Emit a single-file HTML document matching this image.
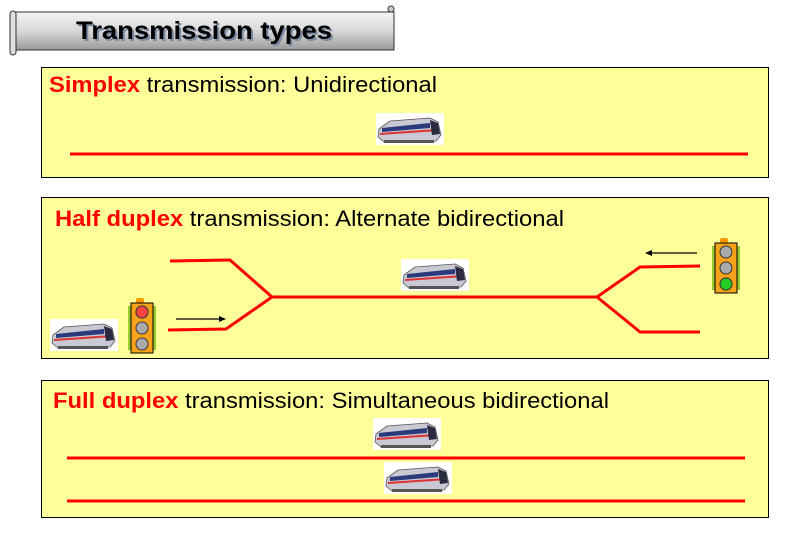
<!DOCTYPE html>
<html><head><meta charset="utf-8"><style>
body{margin:0;background:#fff;width:785px;height:539px;overflow:hidden}
svg{display:block}
text{font-family:"Liberation Sans",Arial,sans-serif}
</style></head><body>
<svg width="785" height="539" viewBox="0 0 785 539" xmlns="http://www.w3.org/2000/svg">
<defs>
<linearGradient id="bn" x1="0" y1="0" x2="0" y2="1">
<stop offset="0" stop-color="#f4f4f4"/><stop offset="0.5" stop-color="#d8d8d8"/><stop offset="1" stop-color="#9a9a9a"/>
</linearGradient>
<g id="train">
<rect x="0" y="0" width="68" height="32" fill="#fff"/>
<path d="M3 16 L14 8 L54 5 L62 9 L65 22 L60 28 L8 29 L2 24 Z" fill="#c9c9d4" stroke="#555" stroke-width="0.8"/>
<path d="M6 15 L54 10 L54 15 L6 19 Z" fill="#2b3a7a"/>
<path d="M4 20 L62 16 L63 18 L4 22 Z" fill="#d33"/>
<path d="M54 7 L62 10 L64 21 L56 22 Z" fill="#2a2a40"/>
<rect x="8" y="27" width="50" height="3" fill="#555"/>
</g>
<g id="tl">
<rect x="8" y="0" width="8" height="5" rx="2" fill="#f59a00"/>
<path d="M0 8 L4 8 L4 52 L0 52 Z M24 8 L28 8 L28 52 L24 52 Z" fill="#9c3"/>
<rect x="3" y="5" width="22" height="50" fill="#f7a21b" stroke="#000" stroke-width="1"/>
<circle cx="14" cy="14" r="6" fill="#aaa" stroke="#333"/>
<circle cx="14" cy="30" r="6" fill="#aaa" stroke="#333"/>
<circle cx="14" cy="46" r="6" fill="#aaa" stroke="#333"/>
</g>
</defs>

<rect x="12" y="12" width="382" height="38" fill="url(#bn)" stroke="#333" stroke-width="1"/>
<rect x="10" y="11" width="6" height="44" rx="3" fill="#ddd" stroke="#333"/>
<circle cx="391" cy="9" r="3" fill="#ccc" stroke="#333"/>
<text x="78" y="41" font-size="25" font-weight="bold" fill="#7a8aa0" textLength="256" lengthAdjust="spacingAndGlyphs">Transmission types</text>
<text x="76" y="39" font-size="25" font-weight="bold" fill="#000" textLength="256" lengthAdjust="spacingAndGlyphs">Transmission types</text>

<rect x="41.5" y="67.5" width="727" height="110" fill="#ffff99" stroke="#000"/>
<text x="49" y="92" font-size="22" fill="#000" textLength="388" lengthAdjust="spacingAndGlyphs"><tspan fill="#f00" font-weight="bold">Simplex</tspan> transmission: Unidirectional</text>
<use href="#train" x="376" y="113"/>
<line x1="70" y1="154" x2="748" y2="154" stroke="#f00" stroke-width="3"/>

<rect x="41.5" y="197.5" width="727" height="161" fill="#ffff99" stroke="#000"/>
<text x="55" y="226" font-size="22" fill="#000" textLength="509" lengthAdjust="spacingAndGlyphs"><tspan fill="#f00" font-weight="bold">Half duplex</tspan> transmission: Alternate bidirectional</text>
<g stroke="#f00" stroke-width="3" fill="none">
<polyline points="170,261 230,260 272,297 597,297 640,267 700,266"/>
<polyline points="168,330 226,329 272,297"/>
<polyline points="597,297 640,332 700,332"/>
</g>
<use href="#train" x="401" y="259"/>
<use href="#train" x="50" y="319"/>
<use href="#tl" x="128" y="298"/>
<circle cx="142" cy="312" r="6" fill="#f44" stroke="#333"/>
<use href="#tl" x="712" y="238"/>
<circle cx="726" cy="284" r="6" fill="#2c2" stroke="#333"/>
<g stroke="#000" stroke-width="1.2">
<line x1="176" y1="319" x2="220" y2="319"/><line x1="652" y1="253" x2="697" y2="253"/>
</g>
<path d="M226 319 L219 316 L219 322 Z M645 253 L652 250 L652 256 Z" fill="#000"/>

<rect x="41.5" y="380.5" width="727" height="137" fill="#ffff99" stroke="#000"/>
<text x="53" y="408" font-size="22" fill="#000" textLength="556" lengthAdjust="spacingAndGlyphs"><tspan fill="#f00" font-weight="bold">Full duplex</tspan> transmission: Simultaneous bidirectional</text>
<use href="#train" x="373" y="418"/>
<line x1="67" y1="458" x2="745" y2="458" stroke="#f00" stroke-width="3"/>
<use href="#train" x="384" y="462"/>
<line x1="67" y1="501" x2="745" y2="501" stroke="#f00" stroke-width="3"/>
</svg>
</body></html>
